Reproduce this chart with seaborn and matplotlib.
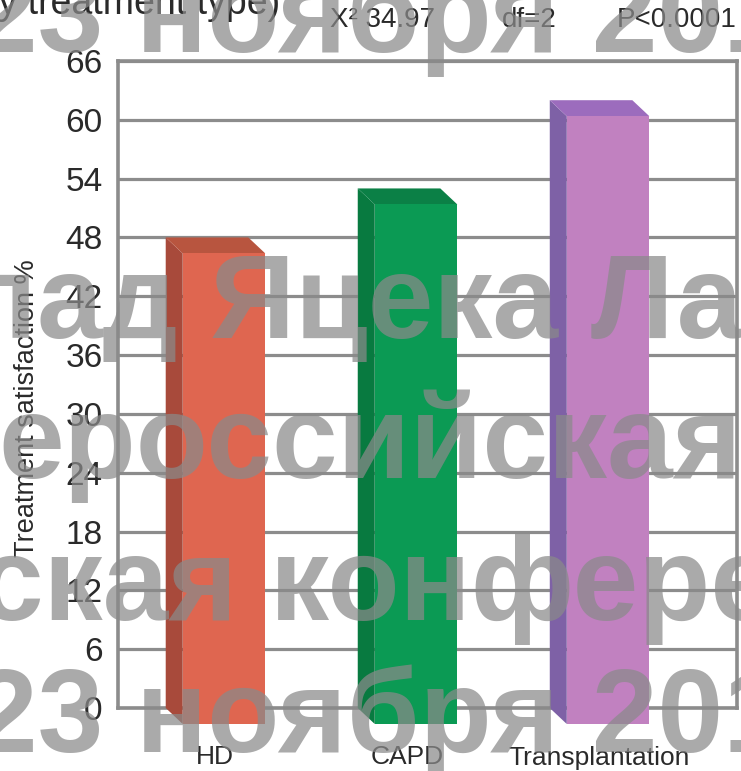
import matplotlib
matplotlib.use("Agg")
import matplotlib.pyplot as plt
from matplotlib.patches import Polygon
from matplotlib.transforms import ScaledTranslation
import pandas as pd
import seaborn as sns

# --- data -------------------------------------------------------------
categories = ["HD", "CAPD", "Transplantation"]
satisfaction = [48, 53, 62]
y_ticks = [0, 6, 12, 18, 24, 30, 36, 42, 48, 54, 60, 66]
stats_labels = ["X\u00b2 34.97", "df=2", "P<0.0001"]
subtitle = "(by treatment type)"
y_label = "Treatment satisfaction %"
watermark_lines = ["23 ноября 201", "лад Яцека Ла", "ероссийская",
                   "ская конфере", "23 ноября 201"]

# --- colours ----------------------------------------------------------
front_colors = ["#df6650", "#0b9a54", "#c181c0"]
side_colors = ["#a84a3b", "#087a40", "#7e61a6"]
top_colors = ["#b8553f", "#0b8046", "#9c6cbd"]
grid_color = "#8c8c8c"
text_color = "#2a2a2a"

# --- figure geometry (pixels) -------------------------------------------
W, H, DPI = 741, 771, 100
L, R, T, B = 118, 737, 61, 708
XMIN, XMAX = -0.4635, 2.76
DEPTH_X, DEPTH_Y = 17, 16          # bar depth offset in px

sns.set_theme(style="white")
plt.rcParams["font.family"] = ["Liberation Sans", "DejaVu Sans"]

fig = plt.figure(figsize=(W / DPI, H / DPI), dpi=DPI)
fig.patch.set_facecolor("white")
ax = fig.add_axes([L / W, 1 - B / H, (R - L) / W, (B - T) / H])

df = pd.DataFrame({"treatment": categories, "value": satisfaction})
sns.barplot(data=df, x="treatment", y="value", hue="treatment",
            palette=front_colors, saturation=1, width=0.43,
            legend=False, ax=ax, zorder=4, linewidth=0)

ax.set_xlim(XMIN, XMAX)
ax.set_ylim(0, 66)
ax.set_yticks(y_ticks)
ax.yaxis.grid(True, color=grid_color, lw=2.3)
ax.xaxis.grid(False)
ax.set_axisbelow(True)
for s in ax.spines.values():
    s.set_visible(True)
    s.set_color(grid_color)
    s.set_linewidth(2.6)

# depth offset in data units
xpp = (XMAX - XMIN) / (R - L)
ypp = 66 / (B - T)
dxd, dyd = DEPTH_X * xpp, DEPTH_Y * ypp
shift = ScaledTranslation(DEPTH_X / DPI, -DEPTH_Y / DPI, fig.dpi_scale_trans)

bars = sorted(ax.patches, key=lambda p: p.get_x())
for i, p in enumerate(bars):
    x0, w, h = p.get_x(), p.get_width(), p.get_height()
    side = Polygon([(x0, 0), (x0, h), (x0 + dxd, h - dyd), (x0 + dxd, -dyd)],
                   closed=True, facecolor=side_colors[i], edgecolor="none",
                   zorder=3, clip_on=False)
    top = Polygon([(x0, h), (x0 + w, h), (x0 + w + dxd, h - dyd), (x0 + dxd, h - dyd)],
                  closed=True, facecolor=top_colors[i], edgecolor="none",
                  zorder=3, clip_on=False)
    ax.add_patch(side)
    ax.add_patch(top)
    p.set_transform(ax.transData + shift)
    p.set_clip_on(False)

# axis labels and ticks
ax.set_xlabel("")
ax.set_ylabel(y_label, fontsize=19.5, color=text_color)
ax.yaxis.set_label_coords((40 - L) / (R - L), (B - 408) / (B - T))
ax.tick_params(axis="y", length=0, pad=11, labelsize=24, labelcolor=text_color)
ax.tick_params(axis="x", length=0, pad=27, labelsize=19, labelcolor=text_color)
xshift = ScaledTranslation(8 / DPI, 0, fig.dpi_scale_trans)
for lab in ax.get_xticklabels():
    lab.set_transform(lab.get_transform() + xshift)

# header texts
fig.text(280 / W, 1 - 14 / H, subtitle, ha="right", va="baseline",
         fontsize=27, color=text_color)
for x, s in zip([330, 502, 617], stats_labels):
    fig.text(x / W, 1 - 27 / H, s, ha="left", va="baseline",
             fontsize=20, color=text_color)

# overlay lettering
wm_pos = [(-28, 52), (-38, 338), (-2, 478), (-22, 620), (-28, 752)]
for (x, y), s in zip(wm_pos, watermark_lines):
    fig.text(x / W, 1 - y / H, s, ha="left", va="baseline", fontsize=85,
             fontweight="bold", color="#8a8a8a", alpha=0.72, zorder=10)

fig.savefig("out.png", dpi=DPI)
